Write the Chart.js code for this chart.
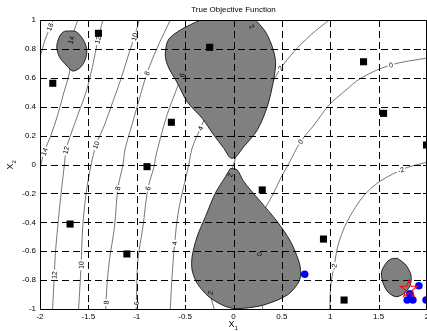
<!DOCTYPE html>
<html lang="en">
<head>
    <meta charset="utf-8" />
    <title>True Objective Function</title>
    <style>
        html, body { margin: 0; padding: 0; background: #fff; }
        canvas { display: block; }
    </style>
</head>
<body>
    <canvas id="myChart" width="427" height="331"></canvas>

    <script src="https://cdn.jsdelivr.net/npm/chart.js@4.4.1/dist/chart.umd.min.js"></script>
    <script>
        var xTicks = [-2, -1.5, -1, -0.5, 0, 0.5, 1, 1.5, 2];
        var xTickLabels = ["-2", "-1.5", "-1", "-0.5", "0", "0.5", "1", "1.5", "2"];
        var yTicks = [-1, -0.8, -0.6, -0.4, -0.2, 0, 0.2, 0.4, 0.6, 0.8, 1];
        var yTickLabels = ["-1", "-0.8", "-0.6", "-0.4", "-0.2", "0", "0.2", "0.4", "0.6", "0.8", "1"];

        // contour lines, [x1, x2] points
        var contour16 = [[-1.865, 1.0], [-1.907, 0.931], [-1.948, 0.862], [-1.979, 0.792], [-2.0, 0.744]];
        var contour14 = [[-1.609, 1.0], [-1.645, 0.931], [-1.679, 0.862], [-1.699, 0.779], [-1.699, 0.689], [-1.694, 0.640],
                         [-1.751, 0.504], [-1.817, 0.343], [-1.886, 0.204], [-1.955, 0.089], [-2.0, -0.024]];
        var contour12 = [[-1.350, 1.0], [-1.402, 0.862], [-1.454, 0.689], [-1.523, 0.504], [-1.609, 0.343], [-1.696, 0.181],
                         [-1.731, 0.100], [-1.748, -0.003], [-1.782, -0.199], [-1.817, -0.430], [-1.841, -0.615],
                         [-1.852, -0.765], [-1.870, -1.0]];
        var contour10 = [[-0.974, 1.0], [-1.023, 0.884], [-1.075, 0.781], [-1.161, 0.597], [-1.247, 0.435], [-1.334, 0.273],
                         [-1.420, 0.135], [-1.472, -0.003], [-1.523, -0.199], [-1.558, -0.430], [-1.575, -0.696], [-1.601, -1.0]];
        var contour8 = [[-0.653, 1.0], [-0.791, 0.804], [-0.894, 0.631], [-0.981, 0.435], [-1.050, 0.273], [-1.119, 0.112],
                        [-1.143, -0.003], [-1.195, -0.165], [-1.230, -0.430], [-1.282, -0.661], [-1.309, -0.846], [-1.321, -1.0]];
        var contour6 = [[-0.342, 1.0], [-0.446, 0.806], [-0.532, 0.619], [-0.591, 0.516], [-0.687, 0.343], [-0.756, 0.181],
                        [-0.808, 0.043], [-0.816, -0.003], [-0.884, -0.165], [-0.936, -0.430], [-0.988, -0.661], [-1.005, -0.972], [-1.005, -1.0]];
        var contour4 = [[-0.07, 1.0], [-0.155, 0.654], [-0.238, 0.412], [-0.342, 0.251], [-0.428, 0.112], [-0.463, -0.003],
                        [-0.567, -0.315], [-0.608, -0.545], [-0.635, -0.776], [-0.653, -1.0]];
        var contour2 = [[0.988, 1.0], [0.798, 0.896], [0.625, 0.781], [0.487, 0.666], [0.435, 0.608], [0.301, 0.446],
                        [0.155, 0.239], [0.031, 0.066], [0.0, -0.003], [-0.052, -0.107], [-0.135, -0.315], [-0.207, -0.592],
                        [-0.238, -0.889], [-0.20, -1.0]];
        var contour2b = [[0.135, 1.0], [0.197, 0.945], [0.259, 0.862]];
        var contour0 = [[2.0, 0.737], [1.627, 0.689], [1.316, 0.597], [1.143, 0.504], [0.988, 0.412], [0.832, 0.273],
                        [0.694, 0.158], [0.573, 0.008], [0.487, -0.096], [0.404, -0.211], [0.301, -0.349], [0.265, -0.52],
                        [0.280, -0.799], [0.301, -1.0]];
        var contourM2 = [[2.0, 0.017], [1.731, -0.038], [1.420, -0.165], [1.212, -0.349], [1.091, -0.534], [1.039, -0.707],
                         [1.005, -0.834], [0.995, -1.0]];
        var contourLines = [contour16, contour14, contour12, contour10, contour8, contour6, contour4, contour2, contour2b, contour0, contourM2];

        // x1, x2, text, index into contourLines
        var contourLabels = [
            [-1.896, 0.952, "16", 0],
            [-1.679, 0.862, "14", 1], [-1.955, 0.089, "14", 1],
            [-1.402, 0.862, "12", 2], [-1.731, 0.100, "12", 2], [-1.852, -0.765, "12", 2],
            [-1.023, 0.884, "10", 3], [-1.420, 0.135, "10", 3], [-1.575, -0.696, "10", 3],
            [-0.894, 0.631, "8", 4], [-1.195, -0.165, "8", 4], [-1.315, -0.955, "8", 4],
            [-0.532, 0.619, "6", 5], [-0.884, -0.165, "6", 5], [-1.005, -0.96, "6", 5],
            [-0.342, 0.251, "4", 6], [-0.608, -0.545, "4", 6],
            [0.487, 0.666, "2", 7], [-0.035, -0.073, "2", 7], [-0.238, -0.889, "2", 7], [0.19, 0.955, "2", 8],
            [1.627, 0.689, "0", 9], [0.694, 0.158, "0", 9], [0.27, -0.62, "0", 9],
            [1.731, -0.038, "-2", 10], [1.039, -0.707, "-2", 10]
        ];

        // shaded regions
        var regionTop = [[-0.342, 1.0], [-0.549, 0.931], [-0.674, 0.862], [-0.705, 0.758], [-0.674, 0.675], [-0.580, 0.564],
                         [-0.480, 0.435], [-0.324, 0.320], [-0.204, 0.204], [-0.100, 0.112], [-0.031, 0.045], [0.021, 0.052],
                         [0.104, 0.121], [0.246, 0.239], [0.349, 0.400], [0.415, 0.585], [0.435, 0.711], [0.401, 0.815],
                         [0.332, 0.917], [0.246, 0.988], [0.228, 1.0]];
        var regionBottom = [[-0.031, -0.026], [-0.083, -0.084], [-0.187, -0.197], [-0.290, -0.361], [-0.376, -0.499],
                            [-0.428, -0.638], [-0.428, -0.730], [-0.376, -0.822], [-0.256, -0.915], [-0.117, -0.972],
                            [-0.013, -0.995], [0.107, -0.995], [0.314, -0.972], [0.557, -0.903], [0.677, -0.811],
                            [0.694, -0.742], [0.677, -0.673], [0.591, -0.534], [0.453, -0.396], [0.280, -0.257],
                            [0.107, -0.119], [0.038, -0.038]];
        var regionLeft = [[-1.731, 0.924], [-1.627, 0.919], [-1.541, 0.850], [-1.516, 0.781], [-1.541, 0.711], [-1.593, 0.666],
                          [-1.661, 0.647], [-1.731, 0.689], [-1.800, 0.746], [-1.827, 0.815], [-1.800, 0.884], [-1.765, 0.915]];
        var regionRight = [[1.696, -0.649], [1.782, -0.696], [1.834, -0.765], [1.827, -0.834], [1.765, -0.891], [1.679, -0.915],
                           [1.593, -0.880], [1.541, -0.811], [1.531, -0.742], [1.575, -0.684], [1.627, -0.654]];
        var regions = [regionTop, regionBottom, regionLeft, regionRight];

        // sample points, local optima, best point
        var sampleX = [-1.396, -1.868, -0.246, -0.642, -0.894, 1.344, 1.551, 1.995, -1.689, -1.102, 0.297, 0.930, 1.143];
        var sampleY = [0.908, 0.562, 0.811, 0.292, -0.015, 0.711, 0.354, 0.135, -0.412, -0.619, -0.176, -0.516, -0.938];
        var optimaX = [0.736, 1.916, 1.796, 1.854, 1.822, 1.99];
        var optimaY = [-0.760, -0.839, -0.938, -0.938, -0.895, -0.938];
        var bestX = [1.813];
        var bestY = [-0.862];

        var regionColor = "#808080";

        function toPoints(list) {
            return list.map(function (p) { return { x: p[0], y: p[1] }; });
        }
        function closed(list) {
            return toPoints(list.concat([list[0]]));
        }
        function zipPoints(xs, ys) {
            return xs.map(function (v, i) { return { x: v, y: ys[i] }; });
        }

        function makeStar(r) {
            var c = document.createElement("canvas");
            var s = Math.ceil(r * 2 + 4);
            c.width = s; c.height = s;
            var g = c.getContext("2d");
            g.strokeStyle = "#ff0000";
            g.lineWidth = 1.1;
            g.beginPath();
            for (var i = 0; i < 10; i++) {
                var rr = i % 2 ? r * 0.4 : r;
                var a = -Math.PI / 2 + i * Math.PI / 5;
                g.lineTo(s / 2 + rr * Math.cos(a), s / 2 + rr * Math.sin(a));
            }
            g.closePath();
            g.stroke();
            return c;
        }

        function pointInPoly(x, y, poly) {
            var inside = false;
            for (var i = 0, j = poly.length - 1; i < poly.length; j = i++) {
                var xi = poly[i][0], yi = poly[i][1], xj = poly[j][0], yj = poly[j][1];
                if (((yi > y) != (yj > y)) && (x < (xj - xi) * (y - yi) / (yj - yi) + xi)) inside = !inside;
            }
            return inside;
        }

        function segDist(px, py, ax, ay, bx, by) {
            var dx = bx - ax, dy = by - ay;
            var t = ((px - ax) * dx + (py - ay) * dy) / (dx * dx + dy * dy || 1);
            t = Math.max(0, Math.min(1, t));
            var qx = ax + t * dx, qy = ay + t * dy;
            return Math.hypot(px - qx, py - qy);
        }

        function drawContourLabels(chart) {
            var ctx = chart.ctx, xs = chart.scales.x, ys = chart.scales.y;
            ctx.save();
            ctx.font = '7px "Liberation Sans", Arial, sans-serif';
            ctx.textAlign = "center";
            ctx.textBaseline = "middle";
            contourLabels.forEach(function (lb) {
                var px = xs.getPixelForValue(lb[0]), py = ys.getPixelForValue(lb[1]);
                var line = contourLines[lb[3]];
                var best = Infinity, ang = 0;
                for (var i = 0; i < line.length - 1; i++) {
                    var ax = xs.getPixelForValue(line[i][0]), ay = ys.getPixelForValue(line[i][1]);
                    var bx = xs.getPixelForValue(line[i + 1][0]), by = ys.getPixelForValue(line[i + 1][1]);
                    var d = segDist(px, py, ax, ay, bx, by);
                    if (d < best) { best = d; ang = Math.atan2(by - ay, bx - ax); }
                }
                if (ang > Math.PI / 2) ang -= Math.PI;
                if (ang < -Math.PI / 2) ang += Math.PI;
                var inside = regions.some(function (r) { return pointInPoly(lb[0], lb[1], r); });
                ctx.save();
                ctx.translate(px, py);
                ctx.rotate(ang);
                var w = ctx.measureText(lb[2]).width + 3;
                if (!inside) {
                    ctx.fillStyle = "#fff";
                    ctx.fillRect(-w / 2, -3, w, 6);
                }
                ctx.fillStyle = "#000";
                ctx.fillText(lb[2], 0, 0.5);
                ctx.restore();
            });
            ctx.restore();
        }

        function drawGrid(chart) {
            var ctx = chart.ctx, a = chart.chartArea, xs = chart.scales.x, ys = chart.scales.y;
            ctx.save();
            ctx.strokeStyle = "#000";
            ctx.lineWidth = 1;
            ctx.setLineDash([7, 4]);
            xTicks.forEach(function (v) {
                if (v <= xs.min || v >= xs.max) return;
                var x = Math.round(xs.getPixelForValue(v)) + 0.5;
                ctx.beginPath(); ctx.moveTo(x, a.top); ctx.lineTo(x, a.bottom); ctx.stroke();
            });
            yTicks.forEach(function (v) {
                if (v <= ys.min || v >= ys.max) return;
                var y = Math.round(ys.getPixelForValue(v)) + 0.5;
                ctx.beginPath(); ctx.moveTo(a.left, y); ctx.lineTo(a.right, y); ctx.stroke();
            });
            ctx.restore();
        }

        var matlabAxes = {
            id: "matlabAxes",
            beforeDatasetDraw: function (chart, args) {
                if (chart.data.datasets[args.index].gridBefore) {
                    drawContourLabels(chart);
                    drawGrid(chart);
                }
            },
            afterDraw: function (chart) {
                var ctx = chart.ctx, a = chart.chartArea, xs = chart.scales.x, ys = chart.scales.y;
                ctx.save();
                ctx.strokeStyle = "#000";
                ctx.lineWidth = 1;
                ctx.strokeRect(a.left + 0.5, a.top + 0.5, a.right - a.left - 1, a.bottom - a.top);

                // inward ticks
                ctx.beginPath();
                xTicks.forEach(function (v) {
                    var x = Math.round(xs.getPixelForValue(v)) + 0.5;
                    ctx.moveTo(x, a.bottom); ctx.lineTo(x, a.bottom - 4);
                    ctx.moveTo(x, a.top); ctx.lineTo(x, a.top + 4);
                });
                yTicks.forEach(function (v) {
                    var y = Math.round(ys.getPixelForValue(v)) + 0.5;
                    ctx.moveTo(a.left, y); ctx.lineTo(a.left + 4, y);
                    ctx.moveTo(a.right, y); ctx.lineTo(a.right - 4, y);
                });
                ctx.stroke();

                ctx.fillStyle = "#000";
                ctx.font = '8px "Liberation Sans", Arial, sans-serif';
                ctx.textAlign = "center";
                ctx.textBaseline = "middle";
                xTicks.forEach(function (v, i) {
                    ctx.fillText(xTickLabels[i], xs.getPixelForValue(v), a.bottom + 8);
                });
                ctx.textAlign = "right";
                yTicks.forEach(function (v, i) {
                    ctx.fillText(yTickLabels[i], a.left - 4, ys.getPixelForValue(v));
                });

                // title
                ctx.textAlign = "center";
                ctx.fillText("True Objective Function", (a.left + a.right) / 2, 10);

                // x label
                var cx = (a.left + a.right) / 2;
                ctx.font = '9px "Liberation Sans", Arial, sans-serif';
                ctx.textAlign = "right";
                ctx.fillText("X", cx + 1, 325);
                ctx.font = '6px "Liberation Sans", Arial, sans-serif';
                ctx.textAlign = "left";
                ctx.fillText("1", cx + 1, 328);

                // y label
                ctx.save();
                ctx.translate(11, (a.top + a.bottom) / 2);
                ctx.rotate(-Math.PI / 2);
                ctx.font = '9px "Liberation Sans", Arial, sans-serif';
                ctx.textAlign = "right";
                ctx.fillText("X", 1, 0);
                ctx.font = '6px "Liberation Sans", Arial, sans-serif';
                ctx.textAlign = "left";
                ctx.fillText("2", 1, 3);
                ctx.restore();

                ctx.restore();
            }
        };

        var datasets = [];
        datasets.push({
            data: zipPoints(bestX, bestY), showLine: false, pointStyle: makeStar(9), pointRadius: 9, order: 1
        });
        datasets.push({
            data: zipPoints(optimaX, optimaY), showLine: false, pointStyle: "circle", pointRadius: 3.8,
            backgroundColor: "#0000ff", borderColor: "#0000ff", borderWidth: 0, order: 2
        });
        datasets.push({
            data: zipPoints(sampleX, sampleY), showLine: false, pointStyle: "rect", pointRadius: 5,
            backgroundColor: "#000", borderColor: "#000", borderWidth: 0, order: 3, gridBefore: true
        });
        regions.forEach(function (r) {
            datasets.push({
                data: closed(r), showLine: true, fill: "shape", backgroundColor: regionColor,
                borderColor: "#000", borderWidth: 0.8, pointRadius: 0, tension: 0.3, order: 4
            });
        });
        contourLines.forEach(function (c) {
            datasets.push({
                data: toPoints(c), showLine: true, fill: false, borderColor: "#3c3c3c",
                borderWidth: 0.7, pointRadius: 0, tension: 0.35, order: 5
            });
        });

        const myChart = new Chart("myChart", {
            type: "line",
            data: { datasets: datasets },
            options: {
                responsive: false,
                animation: false,
                devicePixelRatio: 1,
                layout: { autoPadding: false, padding: { left: 40, top: 20, right: 0, bottom: 22 } },
                scales: {
                    x: { type: "linear", min: -2, max: 2, display: false },
                    y: { type: "linear", min: -1, max: 1, display: false }
                },
                plugins: {
                    legend: { display: false },
                    tooltip: { enabled: false },
                    title: { display: false }
                }
            },
            plugins: [matlabAxes]
        });
    </script>
</body>
</html>
